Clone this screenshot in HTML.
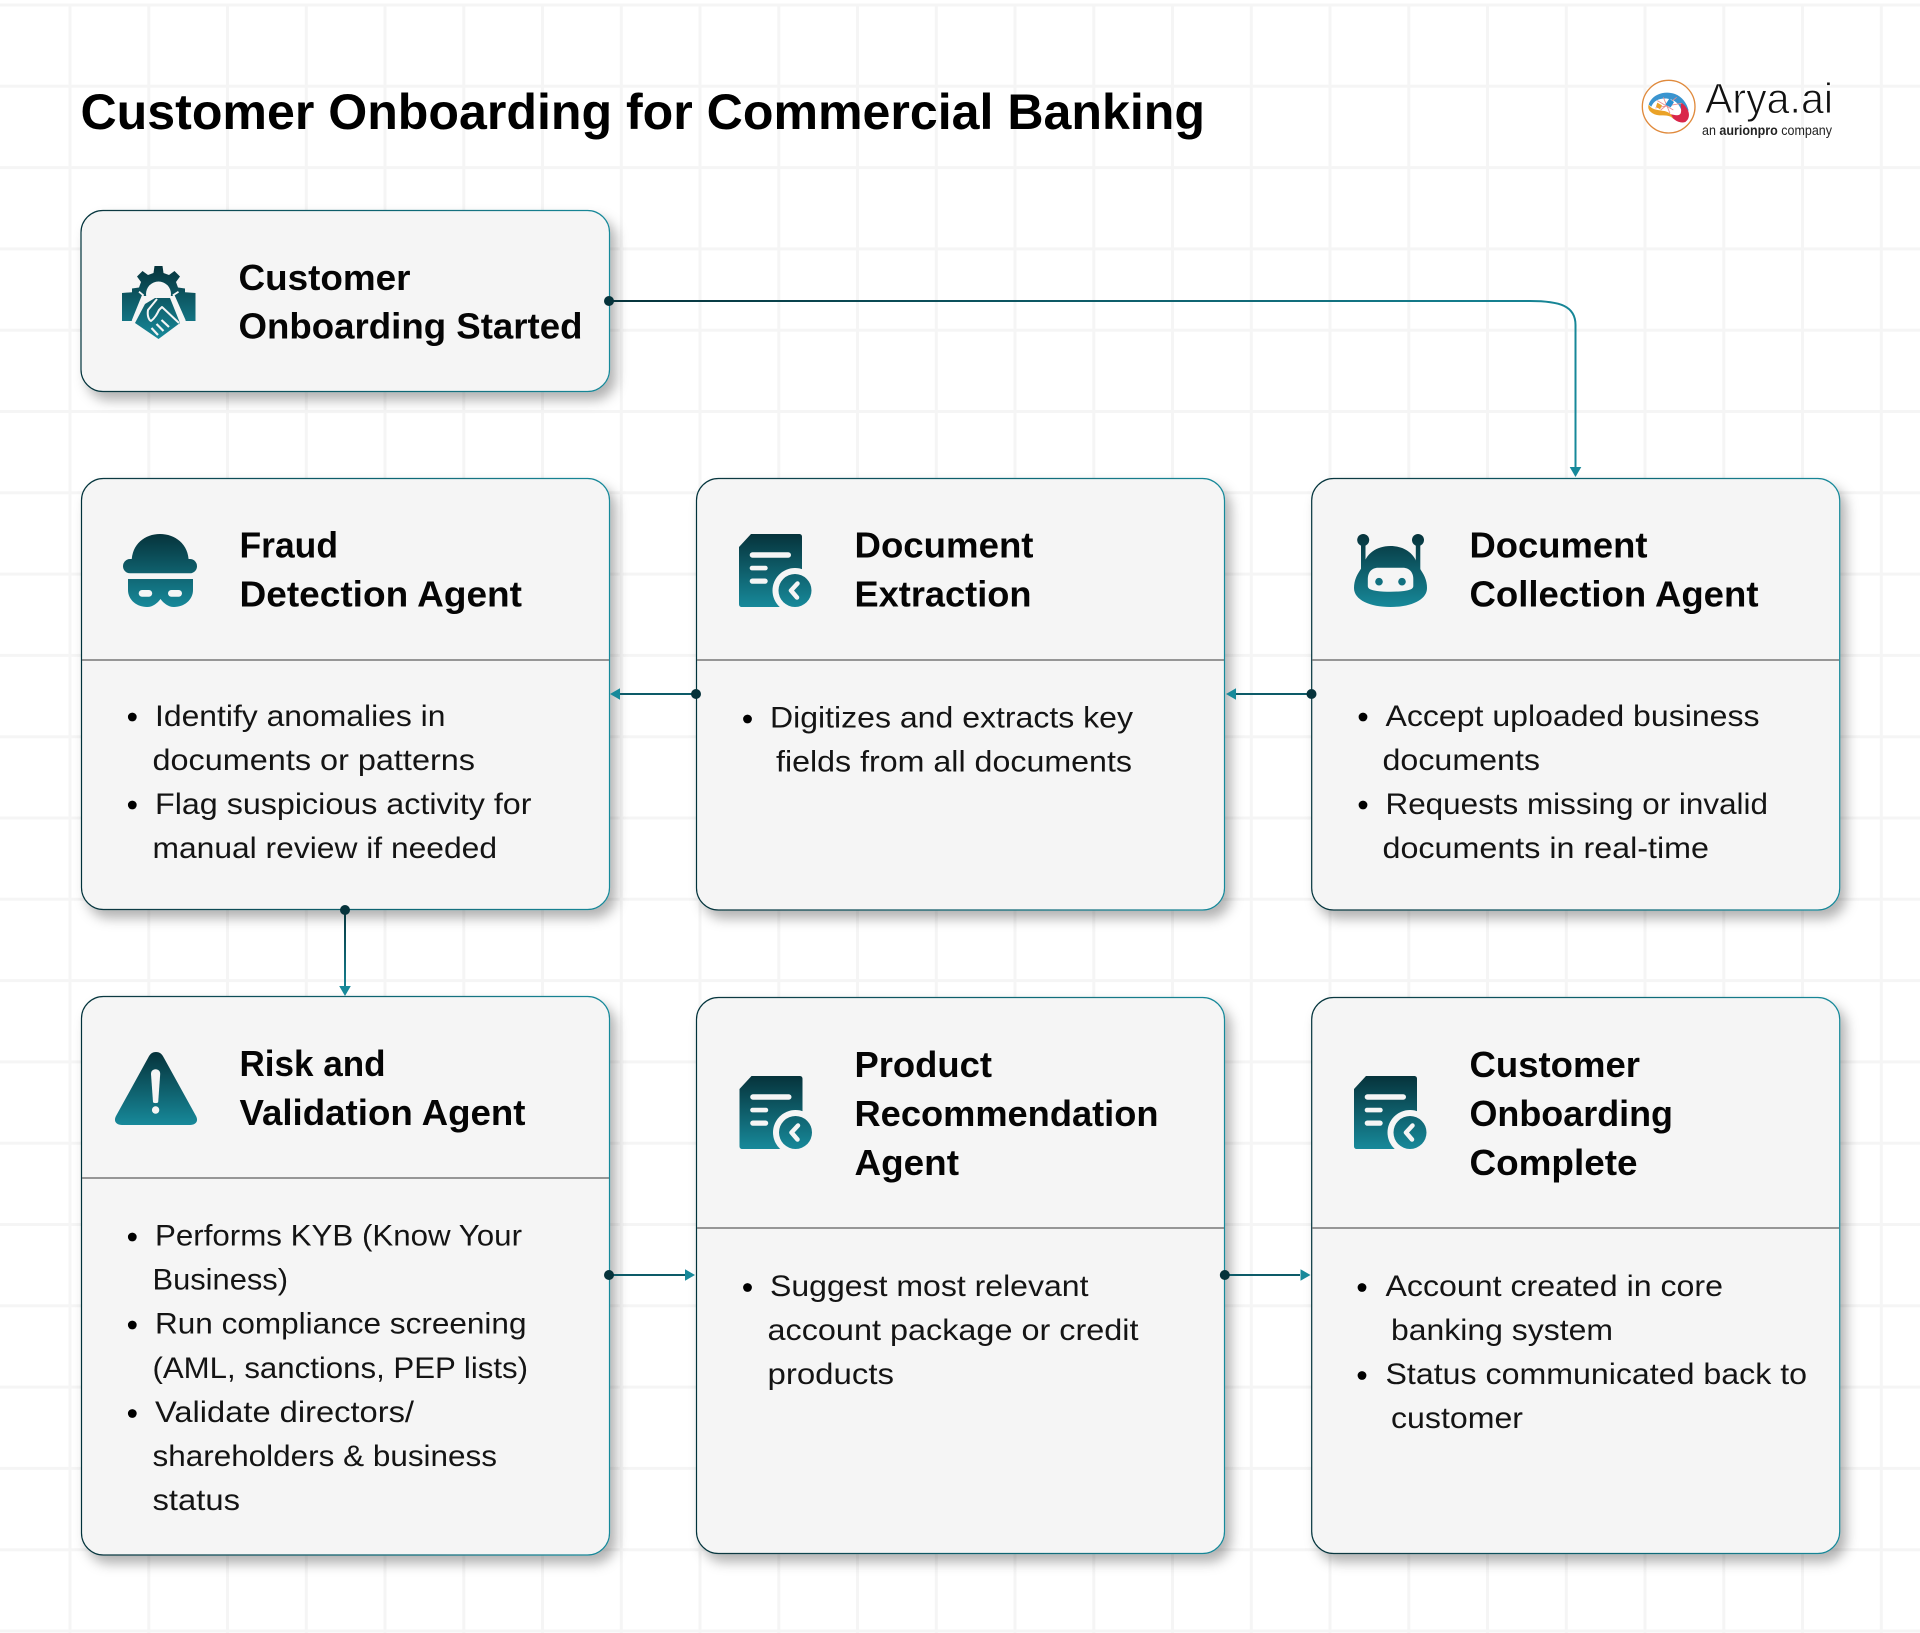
<!DOCTYPE html>
<html><head><meta charset="utf-8"><title>Customer Onboarding for Commercial Banking</title>
<style>
html,body{margin:0;padding:0;background:#fff;width:1920px;height:1633px;overflow:hidden}
svg{display:block}
text{font-family:"Liberation Sans",Arial,sans-serif}
.h{font-size:36px;font-weight:700;fill:#050505}
.b{font-size:30px;fill:#141414}
</style></head><body>
<svg xmlns="http://www.w3.org/2000/svg" width="1920" height="1633" viewBox="0 0 1920 1633">
<defs>
<linearGradient id="ic" gradientUnits="userSpaceOnUse" x1="0" y1="0" x2="0" y2="73"><stop offset="0" stop-color="#06333b"/><stop offset="1" stop-color="#17899a"/></linearGradient>
<linearGradient id="bd" x1="0" y1="0" x2="1" y2="0"><stop offset="0" stop-color="#06333b"/><stop offset="1" stop-color="#17899a"/></linearGradient>
<linearGradient id="c1" gradientUnits="userSpaceOnUse" x1="609" y1="301" x2="1575" y2="477"><stop offset="0" stop-color="#06333b"/><stop offset="1" stop-color="#17899a"/></linearGradient>
<linearGradient id="cv" gradientUnits="userSpaceOnUse" x1="345" y1="910" x2="345" y2="996"><stop offset="0" stop-color="#06333b"/><stop offset="1" stop-color="#17899a"/></linearGradient>
<filter id="sh" x="-10%" y="-10%" width="125%" height="125%"><feDropShadow dx="6" dy="8" stdDeviation="6" flood-color="#000" flood-opacity="0.3"/></filter>
</defs>
<rect width="1920" height="1633" fill="#fff"/>
<g stroke="#f5f5f5" stroke-width="3" fill="none">
<path d="M0 5H1920M0 86.3H1920M0 167.6H1920M0 248.9H1920M0 330.2H1920M0 411.5H1920M0 492.8H1920M0 574.1H1920M0 655.4H1920M0 736.7H1920M0 818H1920M0 899.3H1920M0 980.6H1920M0 1061.9H1920M0 1143.2H1920M0 1224.5H1920M0 1305.8H1920M0 1387.1H1920M0 1468.4H1920M0 1549.7H1920M0 1631H1920"/>
<path d="M70 5V1633M148.8 5V1633M227.5 5V1633M306.3 5V1633M385 5V1633M463.8 5V1633M542.5 5V1633M621.3 5V1633M700 5V1633M778.8 5V1633M857.5 5V1633M936.3 5V1633M1015 5V1633M1093.8 5V1633M1172.5 5V1633M1251.3 5V1633M1330 5V1633M1408.8 5V1633M1487.5 5V1633M1566.3 5V1633M1645 5V1633M1723.8 5V1633M1802.5 5V1633M1881.3 5V1633"/>
</g>

<text x="80.500" y="129" font-size="50" font-weight="700" fill="#000" textLength="1124.500" lengthAdjust="spacingAndGlyphs">Customer Onboarding for Commercial Banking</text>

<!-- logo -->
<g transform="translate(1620,60) scale(.3333)">
<circle cx="146" cy="140" r="79" fill="#fff" stroke="#e08a3c" stroke-width="4"/>
<path d="M86 134C94 106 130 90 165 102C186 110 200 128 206 152L184 150C176 127 155 113 128 116C110 118 100 126 94 140Z" fill="#3a94cf"/>
<path d="M184 128C210 146 214 174 196 186C176 192 160 178 146 162C164 164 176 170 182 160C186 150 180 140 184 128Z" fill="#d9264a"/>
<path d="M86 134C80 150 96 164 118 166C134 167 148 164 160 176C150 150 130 154 114 150C102 148 94 146 86 134Z" fill="#eaa227"/>
<path d="M112 122L160 150M130 112L150 160M170 112L122 150M106 144L185 130" stroke="#e98c8c" stroke-width="2.500" fill="none"/>
<path d="M148 116l14 10-10 16-16-8z" fill="#2b8fd0"/>
<path d="M112 128l14 8-6 12-12-8z" fill="#eaa227"/>
</g>
<text x="1705" y="113" font-size="43" fill="#111" stroke="#fff" stroke-width="0.9" paint-order="fill" textLength="128" lengthAdjust="spacingAndGlyphs">Arya.ai</text>
<text x="1702" y="135" font-size="13.500" fill="#222" textLength="130" lengthAdjust="spacingAndGlyphs">an <tspan font-weight="700">aurionpro</tspan> company</text>

<!-- cards -->
<g fill="#f5f5f5" stroke="url(#bd)" stroke-width="1.200" filter="url(#sh)">
<rect x="81" y="210.500" width="528.500" height="181" rx="22"/>
<rect x="81.500" y="478.500" width="528" height="431" rx="22"/>
<rect x="696.500" y="478.500" width="528" height="431.500" rx="22"/>
<rect x="1311.700" y="478.500" width="528" height="431.500" rx="22"/>
<rect x="81.500" y="996.500" width="528" height="558.500" rx="22"/>
<rect x="696.500" y="997.500" width="528" height="556" rx="22"/>
<rect x="1311.700" y="997.500" width="528" height="556" rx="22"/>
</g>
<g stroke="#777" stroke-width="1.600">
<path d="M82 660H609M697 660H1224M1312 660H1839M82 1178H609M697 1228H1224M1312 1228H1839"/>
</g>

<!-- headings -->
<text class="h" x="238.500" y="290" textLength="172" lengthAdjust="spacingAndGlyphs">Customer</text>
<text class="h" x="238.500" y="338.500" textLength="344" lengthAdjust="spacingAndGlyphs">Onboarding Started</text>
<text class="h" x="239.500" y="557.500" textLength="98.500" lengthAdjust="spacingAndGlyphs">Fraud</text>
<text class="h" x="239.500" y="606.500" textLength="282.500" lengthAdjust="spacingAndGlyphs">Detection Agent</text>
<text class="h" x="854.500" y="557.500" textLength="179" lengthAdjust="spacingAndGlyphs">Document</text>
<text class="h" x="854.500" y="606.500" textLength="177" lengthAdjust="spacingAndGlyphs">Extraction</text>
<text class="h" x="1469.500" y="557.500" textLength="178" lengthAdjust="spacingAndGlyphs">Document</text>
<text class="h" x="1469.500" y="606.500" textLength="289" lengthAdjust="spacingAndGlyphs">Collection Agent</text>
<text class="h" x="239.500" y="1076" textLength="146" lengthAdjust="spacingAndGlyphs">Risk and</text>
<text class="h" x="239.500" y="1125" textLength="286" lengthAdjust="spacingAndGlyphs">Validation Agent</text>
<text class="h" x="854.500" y="1077" textLength="137.500" lengthAdjust="spacingAndGlyphs">Product</text>
<text class="h" x="854.500" y="1126" textLength="304" lengthAdjust="spacingAndGlyphs">Recommendation</text>
<text class="h" x="854.500" y="1175" textLength="104.500" lengthAdjust="spacingAndGlyphs">Agent</text>
<text class="h" x="1469.500" y="1077" textLength="170.500" lengthAdjust="spacingAndGlyphs">Customer</text>
<text class="h" x="1469.500" y="1126" textLength="203.500" lengthAdjust="spacingAndGlyphs">Onboarding</text>
<text class="h" x="1469.500" y="1175" textLength="168" lengthAdjust="spacingAndGlyphs">Complete</text>

<!-- bullets -->
<g fill="#000">
<circle cx="132.300" cy="717" r="4.400"/><circle cx="132.300" cy="805" r="4.400"/>
<circle cx="747.500" cy="719" r="4.400"/>
<circle cx="1363" cy="717" r="4.400"/><circle cx="1363" cy="805" r="4.400"/>
<circle cx="132.300" cy="1237" r="4.400"/><circle cx="132.300" cy="1325" r="4.400"/><circle cx="132.300" cy="1413.500" r="4.400"/>
<circle cx="747.500" cy="1287.500" r="4.400"/>
<circle cx="1362" cy="1287.500" r="4.400"/><circle cx="1362" cy="1375.500" r="4.400"/>
</g>
<text class="b" x="155" y="725.800" textLength="290.500" lengthAdjust="spacingAndGlyphs">Identify anomalies in</text>
<text class="b" x="152.500" y="769.800" textLength="322.500" lengthAdjust="spacingAndGlyphs">documents or patterns</text>
<text class="b" x="155" y="813.800" textLength="376.500" lengthAdjust="spacingAndGlyphs">Flag suspicious activity for</text>
<text class="b" x="152.500" y="857.800" textLength="344.500" lengthAdjust="spacingAndGlyphs">manual review if needed</text>

<text class="b" x="770" y="727.500" textLength="363" lengthAdjust="spacingAndGlyphs">Digitizes and extracts key</text>
<text class="b" x="776" y="771.500" textLength="356" lengthAdjust="spacingAndGlyphs">fields from all documents</text>

<text class="b" x="1385.500" y="725.800" textLength="374" lengthAdjust="spacingAndGlyphs">Accept uploaded business</text>
<text class="b" x="1382.500" y="769.800" textLength="157.500" lengthAdjust="spacingAndGlyphs">documents</text>
<text class="b" x="1385.500" y="813.800" textLength="382.500" lengthAdjust="spacingAndGlyphs">Requests missing or invalid</text>
<text class="b" x="1382.500" y="857.800" textLength="326.500" lengthAdjust="spacingAndGlyphs">documents in real-time</text>

<text class="b" x="155" y="1245.500" textLength="367" lengthAdjust="spacingAndGlyphs">Performs KYB (Know Your</text>
<text class="b" x="152.500" y="1289.500" textLength="135.500" lengthAdjust="spacingAndGlyphs">Business)</text>
<text class="b" x="155" y="1333.500" textLength="371.500" lengthAdjust="spacingAndGlyphs">Run compliance screening</text>
<text class="b" x="152.500" y="1377.800" textLength="375.500" lengthAdjust="spacingAndGlyphs">(AML, sanctions, PEP lists)</text>
<text class="b" x="155" y="1422" textLength="259" lengthAdjust="spacingAndGlyphs">Validate directors/</text>
<text class="b" x="152.500" y="1466" textLength="344.500" lengthAdjust="spacingAndGlyphs">shareholders &amp; business</text>
<text class="b" x="152.500" y="1510" textLength="87.500" lengthAdjust="spacingAndGlyphs">status</text>

<text class="b" x="770" y="1296" textLength="318.500" lengthAdjust="spacingAndGlyphs">Suggest most relevant</text>
<text class="b" x="767.500" y="1340" textLength="371" lengthAdjust="spacingAndGlyphs">account package or credit</text>
<text class="b" x="767.500" y="1384" textLength="126.500" lengthAdjust="spacingAndGlyphs">products</text>

<text class="b" x="1385.500" y="1296" textLength="337.500" lengthAdjust="spacingAndGlyphs">Account created in core</text>
<text class="b" x="1391" y="1340" textLength="222" lengthAdjust="spacingAndGlyphs">banking system</text>
<text class="b" x="1385.500" y="1384" textLength="421.500" lengthAdjust="spacingAndGlyphs">Status communicated back to</text>
<text class="b" x="1391" y="1428" textLength="132" lengthAdjust="spacingAndGlyphs">customer</text>

<!-- icons -->
<!-- handshake gear -->
<g transform="translate(122,266)">
<path fill="url(#ic)" d="M32.500 0H40.500L41.500 7L47 9L52.500 5L58 10.500L54 16L56 21.500L63 22.500V30H10V22.500L17 21.500L19 16L15 10.500L20.500 5L26 9L31.500 7Z"/>
<circle cx="36.500" cy="28" r="12.500" fill="#f5f5f5"/>
<path fill="url(#ic)" d="M0 27L17 25.700L21 29L10.500 55H0Z"/>
<path fill="url(#ic)" d="M73.500 27L56.500 25.700L51.500 29L63 55H73.500Z"/>
<path fill="url(#ic)" stroke="#f5f5f5" stroke-width="1.800" paint-order="stroke" d="M23 38L33 32L48 32L58 57L36.500 73L13 57Z"/>
<path fill="none" stroke="#f5f5f5" stroke-width="2" stroke-linejoin="round" d="M35 33L26 44C25 50 27 54 29 55C33 52 35 48 37 44L40 41L57 57"/>
<path fill="none" stroke="#f5f5f5" stroke-width="2.200" d="M29.500 62L36 69M34.500 58L41.500 65M39.500 54L47 61"/>
<path fill="none" stroke="#f5f5f5" stroke-width="1.800" d="M17 25.700L21 29L10.500 55M56.500 25.700L51.500 29L63 55"/>
</g>
<!-- hat -->
<g transform="translate(123,534)">
<path fill="url(#ic)" d="M8.600 28C8.600 10 22 0 37 0S65.700 10 65.700 28Z"/>
<rect x="0" y="25" width="74" height="14.300" rx="7.100" fill="url(#ic)"/>
<path fill="url(#ic)" d="M5 45H70V56C70 66 61 73 51 73C45 73 40.500 69 37.500 65C34.500 69 30 73 24 73C14 73 5 66 5 56Z"/>
<rect x="15.700" y="56" width="13.500" height="6.700" rx="3.300" fill="#f5f5f5"/>
<rect x="45" y="56" width="14" height="6.700" rx="3.300" fill="#f5f5f5"/>
</g>
<!-- doc icons -->
<g transform="translate(739,534)">
<path fill="url(#ic)" d="M12 0H60C62 0 63 1 63 3V70C63 72 62 73 60 73H3C1 73 0 72 0 70V13Z"/>
<rect x="10.700" y="18.300" width="41.300" height="5.400" rx="2.700" fill="#f5f5f5"/>
<rect x="10.700" y="31.700" width="18" height="4.700" rx="2.300" fill="#f5f5f5"/>
<rect x="10.700" y="44.500" width="18" height="5.200" rx="2.600" fill="#f5f5f5"/>
<circle cx="56" cy="56.500" r="22.500" fill="#f5f5f5"/>
<circle cx="56" cy="56.500" r="16.500" fill="url(#ic)"/>
<path d="M58.500 49.500L52 56.500L58 63.500" fill="none" stroke="#f5f5f5" stroke-width="4.500" stroke-linecap="round" stroke-linejoin="round"/>
</g>
<g transform="translate(739.500,1076)">
<path fill="url(#ic)" d="M12 0H60C62 0 63 1 63 3V70C63 72 62 73 60 73H3C1 73 0 72 0 70V13Z"/>
<rect x="10.700" y="18.300" width="41.300" height="5.400" rx="2.700" fill="#f5f5f5"/>
<rect x="10.700" y="31.700" width="18" height="4.700" rx="2.300" fill="#f5f5f5"/>
<rect x="10.700" y="44.500" width="18" height="5.200" rx="2.600" fill="#f5f5f5"/>
<circle cx="56" cy="56.500" r="22.500" fill="#f5f5f5"/>
<circle cx="56" cy="56.500" r="16.500" fill="url(#ic)"/>
<path d="M58.500 49.500L52 56.500L58 63.500" fill="none" stroke="#f5f5f5" stroke-width="4.500" stroke-linecap="round" stroke-linejoin="round"/>
</g>
<g transform="translate(1354,1076)">
<path fill="url(#ic)" d="M12 0H60C62 0 63 1 63 3V70C63 72 62 73 60 73H3C1 73 0 72 0 70V13Z"/>
<rect x="10.700" y="18.300" width="41.300" height="5.400" rx="2.700" fill="#f5f5f5"/>
<rect x="10.700" y="31.700" width="18" height="4.700" rx="2.300" fill="#f5f5f5"/>
<rect x="10.700" y="44.500" width="18" height="5.200" rx="2.600" fill="#f5f5f5"/>
<circle cx="56" cy="56.500" r="22.500" fill="#f5f5f5"/>
<circle cx="56" cy="56.500" r="16.500" fill="url(#ic)"/>
<path d="M58.500 49.500L52 56.500L58 63.500" fill="none" stroke="#f5f5f5" stroke-width="4.500" stroke-linecap="round" stroke-linejoin="round"/>
</g>
<!-- robot -->
<g transform="translate(1354,534)">
<circle cx="9.200" cy="6" r="6" fill="url(#ic)"/><circle cx="64" cy="6" r="6" fill="url(#ic)"/>
<rect x="7" y="6" width="4.500" height="30" fill="url(#ic)"/><rect x="61.800" y="6" width="4.500" height="30" fill="url(#ic)"/>
<path fill="url(#ic)" d="M36.500 12C22 12 12 20 9 32C3 40 0 46 0 54C0 66 16 73 36.500 73C57 73 73 66 73 54C73 46 70 40 64 32C61 20 51 12 36.500 12Z"/>
<path fill="#f5f5f5" d="M24 33.700H49C55 33.700 59.300 38 59.300 45V52C59.300 55 56 56 50 57C42 58 31 58 23 57C17 56 13.800 55 13.800 52V45C13.800 38 18 33.700 24 33.700Z"/>
<circle cx="25" cy="47.700" r="3.800" fill="#12707f"/><circle cx="48" cy="47.700" r="3.800" fill="#12707f"/>
</g>
<!-- warning -->
<g transform="translate(115,1052)">
<path fill="url(#ic)" d="M41 0C45 0 47 2 49 6L81 64C84 70 80 73 75 73H7C2 73 -2 70 1 64L33 6C35 2 37 0 41 0Z"/>
<path fill="#f5f5f5" d="M36 22C36 19 38 17.300 40.600 17.300S45.200 19 45.200 22L43.200 50C43 51.500 38.200 51.500 38 50Z"/>
<circle cx="40.600" cy="58" r="3.700" fill="#f5f5f5"/>
</g>

<!-- connectors -->
<g fill="none" stroke-width="2">
<path stroke="url(#c1)" d="M609 301H1530C1560 301 1575.500 306 1575.500 325V468"/>
<path stroke="url(#cv)" d="M345 910V987"/>
<path stroke="#0d5b68" d="M696 694H620M1311 694H1236"/>
<path stroke="#0d5b68" d="M609 1275H685M1225 1275H1300"/>
</g>
<g fill="#17899a">
<path d="M1569.700 467H1581.300L1575.500 477Z"/>
<path d="M339.200 986H350.800L345 996Z"/>
<path d="M610 694L620 688.200V699.800Z"/>
<path d="M1226 694L1236 688.200V699.800Z"/>
<path d="M695 1275L685 1269.200V1280.800Z"/>
<path d="M1310.500 1275L1300.500 1269.200V1280.800Z"/>
</g>
<g fill="#06333b">
<circle cx="609" cy="301" r="5"/>
<circle cx="345" cy="910" r="5"/>
<circle cx="696" cy="694" r="5"/>
<circle cx="1311.500" cy="694" r="5"/>
<circle cx="609" cy="1275" r="5"/>
<circle cx="1224.800" cy="1275" r="5"/>
</g>
</svg>
</body></html>
